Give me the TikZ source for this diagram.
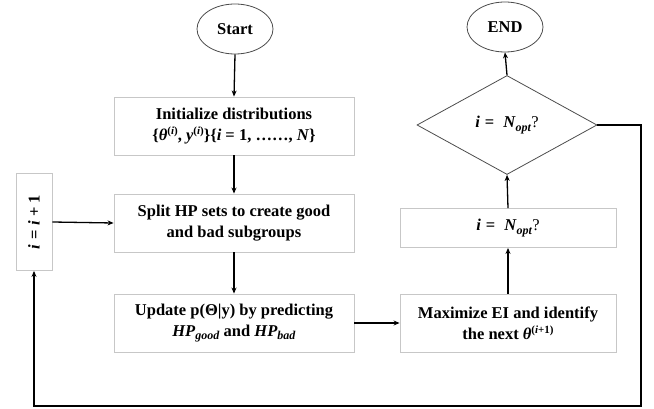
\documentclass[tikz,border=0pt]{standalone}
\usepackage{fontspec}
\setmainfont{Liberation Serif}
\usetikzlibrary{shapes.geometric,arrows.meta}
\newcommand{\bit}[1]{\textit{#1}}
\newcommand{\sub}[1]{\raisebox{-3.5pt}{\fontsize{12}{12}\selectfont\textit{#1}}}
\newcommand{\sups}[1]{\raisebox{5.5pt}{\fontsize{11}{11}\selectfont #1}}
\newcommand{\eqs}{\hspace{5pt}=\hspace{5pt}}
\begin{document}
\begin{tikzpicture}[x=1pt,y=-1pt,
  every node/.style={font=\fontsize{16.5}{21}\selectfont\bfseries, align=center, inner sep=0pt},
  procbox/.style={draw=black!22, line width=0.9pt, minimum width=#1, fill=white},
  procbox/.default=240pt,
  term/.style={draw=black!70, line width=0.8pt, ellipse, minimum width=76pt, minimum height=50pt},
  decis/.style={draw=black!70, line width=0.8pt, diamond, minimum width=180pt, minimum height=99pt, aspect=1.8},
  conn/.style={line width=1.3pt, -{Stealth[length=6pt,width=5pt]}}]
\useasboundingbox (0,0) rectangle (654,409);
\node[term] (start) at (235,29) {Start};
\node[procbox, minimum height=58pt] (init) at (234,126) {Initialize distributions\\\{\bit{θ}\sups{(\bit{i})}, \bit{y}\sups{(\bit{i})}\}\{\bit{i} = 1, ……, \bit{N}\}};
\node[procbox, minimum height=58pt] (split) at (234,223) {Split HP sets to create good\\and bad subgroups};
\node[procbox, minimum height=58pt] (update) at (234,323) {Update p(Θ|y) by predicting\\\bit{HP}\sub{good} and \bit{HP}\sub{bad}};
\node[procbox=216pt, minimum height=58pt] (max) at (508,323) {Maximize EI and identify\\the next \bit{θ}\sups{(\bit{i}+1)}};
\node[procbox=216pt, minimum height=39pt] (chk) at (508,228) {\bit{i}\eqs\hspace{4pt}\bit{N}\sub{opt}\textmd{?}};
\node[decis] (dec) at (507,125) {\bit{i}\eqs\hspace{4pt}\bit{N}\sub{opt}\textmd{?}};
\node[term] (end) at (505,27) {END};
\node[procbox=36pt, minimum height=97pt] (inc) at (34,222) {\rotatebox{90}{\bit{i}\eqs\bit{i}\hspace{4pt}+\hspace{4pt}1}};
\coordinate (c1) at (641,125);
\coordinate (c2) at (641,406);
\coordinate (c3) at (34,406);
\draw[conn] (start.south) -- (init.north);
\draw[conn] (init.south) -- (split.north);
\draw[conn] (split.south) -- (update.north);
\draw[conn] (update.east) -- (max.west);
\draw[conn] (max.north) -- (chk.south);
\draw[conn] (chk.north) -- (dec.south);
\draw[conn] (dec.north) -- (end.south);
\draw[conn] (dec.east) -- (c1) -- (c2) -- (c3) -- (inc.south);
\draw[conn] (inc.east) -- (split.west);
\end{tikzpicture}
\end{document}
